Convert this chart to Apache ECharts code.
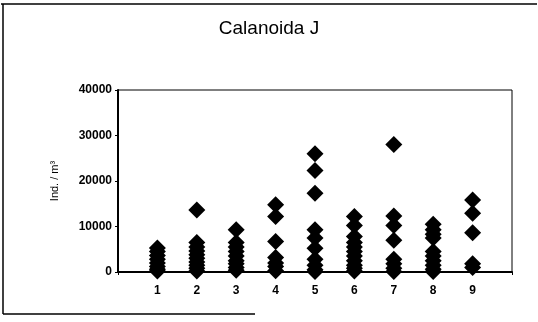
<!DOCTYPE html>
<html>
<head>
<meta charset="utf-8">
<script src="https://cdn.jsdelivr.net/npm/echarts@6/dist/echarts.min.js"></script>
<style>
  html, body { margin: 0; padding: 0; background: #fff; }
  #chart { width: 538px; height: 322px; }
</style>
</head>
<body>
<div id="chart"></div>
<script>
// Sampling stations along the x axis
const stations = [1, 2, 3, 4, 5, 6, 7, 8, 9];
const yTicks = [0, 10000, 20000, 30000, 40000];

// Abundance (Ind. / m³) recorded at each station
const st1 = [5300, 4500, 3600, 2800, 2000, 1200, 600, 200];
const st2 = [13600, 6500, 5500, 4600, 3800, 3000, 2200, 1500, 800, 200];
const st3 = [9300, 6500, 5500, 4500, 3500, 2500, 1800, 1000, 400];
const st4 = [14800, 12200, 6700, 3200, 2000, 1200, 300];
const st5 = [26000, 22300, 17300, 9300, 7500, 5200, 2800, 1500, 500, 100];
const st6 = [12200, 10200, 7800, 6500, 5500, 4500, 3500, 2500, 1500, 800, 200];
const st7 = [28000, 12300, 10200, 7000, 2800, 1800, 800, 100];
const st8 = [10500, 9300, 8300, 7500, 4500, 3500, 2500, 1500, 600, 100];
const st9 = [15800, 12900, 8600, 1800, 1000];

const byStation = [st1, st2, st3, st4, st5, st6, st7, st8, st9];
const points = [];
byStation.forEach((vals, i) => {
  vals.forEach(v => points.push([stations[i], v]));
});

const font = 'Liberation Sans, Arial, sans-serif';
const chart = echarts.init(document.getElementById('chart'), null, { renderer: 'canvas' });

chart.setOption({
  animation: false,
  backgroundColor: '#fff',
  title: {
    text: 'Calanoida J',
    left: 264,
    textAlign: 'center',
    top: 14,
    textStyle: { fontFamily: font, fontSize: 19, fontWeight: 'normal', color: '#000' }
  },
  graphic: [
    { type: 'line', shape: { x1: 1, y1: 4, x2: 537, y2: 4 }, style: { stroke: '#000', lineWidth: 1.5 } },
    { type: 'line', shape: { x1: 3, y1: 4, x2: 3, y2: 314 }, style: { stroke: '#000', lineWidth: 1.5 } },
    { type: 'line', shape: { x1: 3, y1: 314, x2: 255, y2: 314 }, style: { stroke: '#000', lineWidth: 1.5 } }
  ],
  grid: {
    left: 118, right: 26, top: 90, bottom: 50,
    show: true, borderColor: '#000', borderWidth: 1
  },
  xAxis: {
    type: 'value',
    min: 0, max: 10, interval: 1,
    axisLine: { lineStyle: { color: '#000', width: 2 } },
    axisTick: { show: true, length: 3, lineStyle: { color: '#000' } },
    splitLine: { show: false },
    axisLabel: {
      margin: 13,
      fontFamily: font, fontSize: 12, fontWeight: 'bold', color: '#000',
      formatter: v => (stations.includes(v) ? String(v) : '')
    }
  },
  yAxis: {
    type: 'value',
    min: yTicks[0], max: yTicks[yTicks.length - 1], interval: 10000,
    name: 'Ind. / m³',
    nameLocation: 'middle',
    nameGap: 58,
    nameTextStyle: { fontFamily: font, fontSize: 11, color: '#000' },
    axisLine: { show: true, lineStyle: { color: '#000', width: 2 } },
    axisTick: { show: true, length: 3, lineStyle: { color: '#000' } },
    splitLine: { show: false },
    axisLabel: {
      margin: 6,
      fontFamily: font, fontSize: 12, fontWeight: 'bold', color: '#000',
      formatter: v => String(v)
    }
  },
  series: [{
    type: 'scatter',
    symbol: 'diamond',
    symbolSize: 17,
    itemStyle: { color: '#000', opacity: 1 },
    data: points
  }]
});
</script>
</body>
</html>
